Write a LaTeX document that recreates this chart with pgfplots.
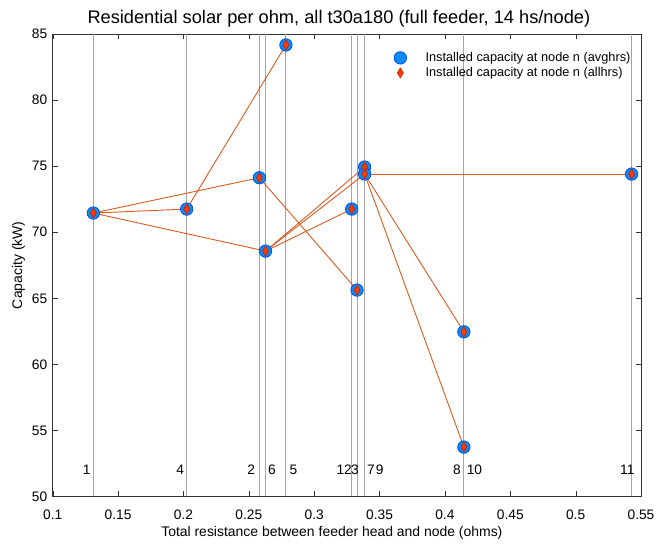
\documentclass[border=0pt]{standalone}
\usepackage{fontspec}
\setmainfont{Liberation Sans}
\usepackage{pgfplots}
\pgfplotsset{compat=1.18}
\definecolor{edgec}{RGB}{217,90,30}
\definecolor{vline}{RGB}{165,165,165}
\definecolor{circfill}{RGB}{10,140,255}
\definecolor{circedge}{RGB}{0,80,220}
\definecolor{diafill}{RGB}{255,60,0}
\definecolor{diaedge}{RGB}{190,30,0}
\begin{document}
\begin{tikzpicture}[x=1bp,y=1bp]
\useasboundingbox (-52.7,-52.5) rectangle (617.3,496.5);
\begin{axis}[
  scale only axis, width=588.3bp, height=462.5bp,
  xmin=0.1, xmax=0.55, ymin=50, ymax=85,
  xtick={0.1,0.15,0.2,0.25,0.3,0.35,0.4,0.45,0.5,0.55},
  xticklabels={0.1,0.15,0.2,0.25,0.3,0.35,0.4,0.45,0.5,0.55},
  ytick={50,55,60,65,70,75,80,85},
  /pgf/number format/assume math mode=true,
  tick align=inside, major tick length=5bp,
  axis line style={draw=black!80},
  tick style={black!80},
  ticklabel style={font=\fontsize{13.8}{15}\selectfont},
  xticklabel style={yshift=-10bp},
  yticklabel style={xshift=-2bp},
  title={Residential solar per ohm, all t30a180 (full feeder, 14 hs/node)},
  title style={font=\fontsize{18.3}{20}\selectfont, yshift=-3bp, xshift=-8bp},
  xlabel={Total resistance between feeder head and node (ohms)},
  xlabel style={xshift=-15bp},
  ylabel={Capacity (kW)},
  label style={font=\fontsize{14}{16}\selectfont},
  legend style={draw=none, fill=none, at={(0.575,0.969)}, anchor=north west,
    font=\fontsize{12.8}{14}\selectfont, row sep=0.3bp, column sep=17bp},
  legend cell align=left,
]
% vertical node lines
\addplot[vline, line width=0.9bp, forget plot] coordinates {(0.1311,50) (0.1311,85)};
\addplot[vline, line width=0.9bp, forget plot] coordinates {(0.2025,50) (0.2025,85)};
\addplot[vline, line width=0.9bp, forget plot] coordinates {(0.2581,50) (0.2581,85)};
\addplot[vline, line width=0.9bp, forget plot] coordinates {(0.2628,50) (0.2628,85)};
\addplot[vline, line width=0.9bp, forget plot] coordinates {(0.2784,50) (0.2784,85)};
\addplot[vline, line width=0.9bp, forget plot] coordinates {(0.3287,50) (0.3287,85)};
\addplot[vline, line width=0.9bp, forget plot] coordinates {(0.3328,50) (0.3328,85)};
\addplot[vline, line width=0.9bp, forget plot] coordinates {(0.3386,50) (0.3386,85)};
\addplot[vline, line width=0.9bp, forget plot] coordinates {(0.4145,50) (0.4145,85)};
\addplot[vline, line width=0.9bp, forget plot] coordinates {(0.5428,50) (0.5428,85)};
% feeder edges
\addplot[edgec, line width=0.9bp, forget plot] coordinates {(0.1311,71.45) (0.2025,71.75)};
\addplot[edgec, line width=0.9bp, forget plot] coordinates {(0.1311,71.45) (0.2581,74.12)};
\addplot[edgec, line width=0.9bp, forget plot] coordinates {(0.1311,71.45) (0.2628,68.57)};
\addplot[edgec, line width=0.9bp, forget plot] coordinates {(0.2025,71.75) (0.2784,84.17)};
\addplot[edgec, line width=0.9bp, forget plot] coordinates {(0.2581,74.12) (0.3328,65.62)};
\addplot[edgec, line width=0.9bp, forget plot] coordinates {(0.2628,68.57) (0.3287,71.75)};
\addplot[edgec, line width=0.9bp, forget plot] coordinates {(0.2628,68.57) (0.3386,74.93)};
\addplot[edgec, line width=0.9bp, forget plot] coordinates {(0.2628,68.57) (0.3386,74.40)};
\addplot[edgec, line width=0.9bp, forget plot] coordinates {(0.3386,74.40) (0.5428,74.40)};
\addplot[edgec, line width=0.9bp, forget plot] coordinates {(0.3386,74.40) (0.4145,62.46)};
\addplot[edgec, line width=0.9bp, forget plot] coordinates {(0.3386,74.40) (0.4145,53.74)};
% markers
\addplot[only marks, mark=*, mark size=6.2bp, mark options={fill=circfill, draw=circedge, line width=0.8bp}]
coordinates {(0.1311,71.45) (0.2025,71.75) (0.2581,74.12) (0.2628,68.57) (0.2784,84.17) (0.3287,71.75)
 (0.3328,65.62) (0.3386,74.93) (0.3386,74.40) (0.4145,53.74) (0.4145,62.46) (0.5428,74.40)};
\addlegendentry{Installed capacity at node n (avghrs)}
\addplot[only marks, mark=diamond*, mark size=5bp, mark options={fill=diafill, draw=diaedge, line width=0.6bp, xscale=0.8}]
coordinates {(0.1311,71.45) (0.2025,71.75) (0.2581,74.12) (0.2628,68.57) (0.2784,84.17) (0.3287,71.75)
 (0.3328,65.62) (0.3386,74.93) (0.3386,74.40) (0.4145,53.74) (0.4145,62.46) (0.5428,74.40)};
\addlegendentry{Installed capacity at node n (allhrs)}
% node labels
\begin{scope}[every node/.style={font=\fontsize{13.8}{15}\selectfont, inner sep=0pt}]
\node at (axis cs:0.1260,52) {1};
\node at (axis cs:0.1975,52) {4};
\node at (axis cs:0.2518,52) {2};
\node at (axis cs:0.2677,52) {6};
\node at (axis cs:0.2842,52) {5};
\node at (axis cs:0.3230,52) {12};
\node at (axis cs:0.3312,52) {3};
\node at (axis cs:0.3435,52) {7};
\node at (axis cs:0.3501,52) {9};
\node at (axis cs:0.4093,52) {8};
\node at (axis cs:0.4226,52) {10};
\node at (axis cs:0.5395,52) {11};
\end{scope}
\end{axis}
\end{tikzpicture}
\end{document}
